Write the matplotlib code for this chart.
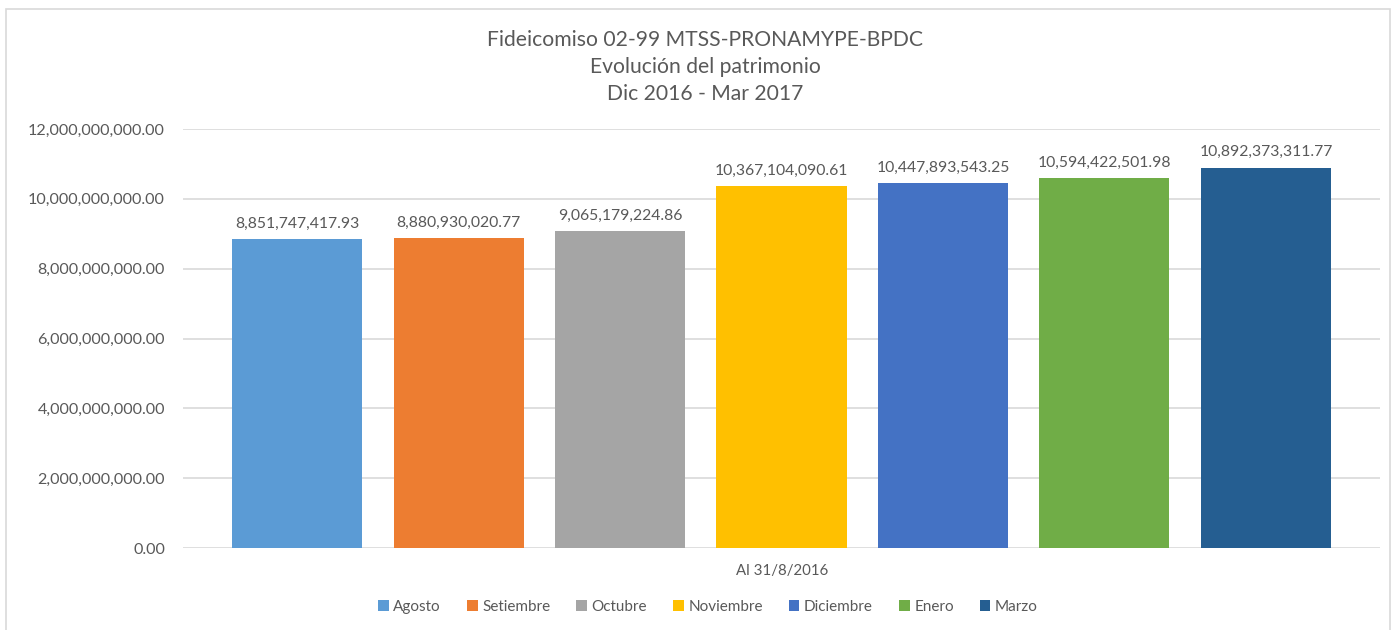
import matplotlib.pyplot as plt
from matplotlib.patches import Rectangle
from matplotlib.ticker import FuncFormatter

# === Data ===
months = ["Agosto", "Setiembre", "Octubre", "Noviembre", "Diciembre", "Enero", "Marzo"]
values = [8851747417.93, 8880930020.77, 9065179224.86, 10367104090.61,
          10447893543.25, 10594422501.98, 10892373311.77]
colors = ["#5B9BD5", "#ED7D31", "#A5A5A5", "#FFC000", "#4472C4", "#70AD47", "#255E91"]
category = "Al 31/8/2016"
title_lines = ["Fideicomiso 02-99 MTSS-PRONAMYPE-BPDC",
               "Evolución del patrimonio",
               "Dic 2016 - Mar 2017"]

plt.rcParams['font.family'] = ['Lato', 'DejaVu Sans']
TXT = "#595959"
GRID = "#D9D9D9"

fig = plt.figure(figsize=(13.97, 6.3), dpi=100)
W, H = 1397, 630
ax = fig.add_axes([183 / W, 1 - 548 / H, (1380 - 183) / W, (548 - 129) / H])

# chart border
fig.patches.append(Rectangle((6 / W, -0.01), (1390 - 6) / W, 1 - 9 / H + 0.01,
                             transform=fig.transFigure, fill=False,
                             edgecolor=GRID, linewidth=1.2))

x = list(range(len(months)))
bars = ax.bar(x, values, width=0.805, color=colors, zorder=3)
for xi, v in zip(x, values):
    ax.annotate(f"{v:,.2f}", (xi, v), xytext=(0, 6), textcoords="offset points",
                ha="center", va="bottom", fontsize=11.3, color=TXT)

ax.set_xlim(-0.706, len(months) - 1 + 0.706)
ax.set_ylim(0, 12e9)
ax.set_yticks([i * 2e9 for i in range(7)])
ax.yaxis.set_major_formatter(FuncFormatter(lambda v, p: f"{v:,.2f}"))
ax.tick_params(axis="y", length=0, pad=13, labelsize=11.6, labelcolor=TXT)
ax.set_xticks([])
ax.grid(axis="y", color=GRID, linewidth=1.2, zorder=0)
for s in ax.spines.values():
    s.set_visible(False)

fig.text(782 / W, 1 - 571 / H, category, ha="center", va="center",
         fontsize=10.8, color=TXT)
for i, line in enumerate(title_lines):
    fig.text(705 / W, 1 - (40 + 27 * i) / H, line, ha="center", va="center",
             fontsize=15.2, color=TXT)

leg = fig.legend(bars, months, loc="center", bbox_to_anchor=(708 / W, 1 - 607 / H),
                 ncol=len(months), frameon=False, fontsize=11,
                 handlelength=0.7, handleheight=0.7, handletextpad=0.3,
                 columnspacing=1.7)
for t in leg.get_texts():
    t.set_color(TXT)

fig.savefig("out.png", dpi=100)
